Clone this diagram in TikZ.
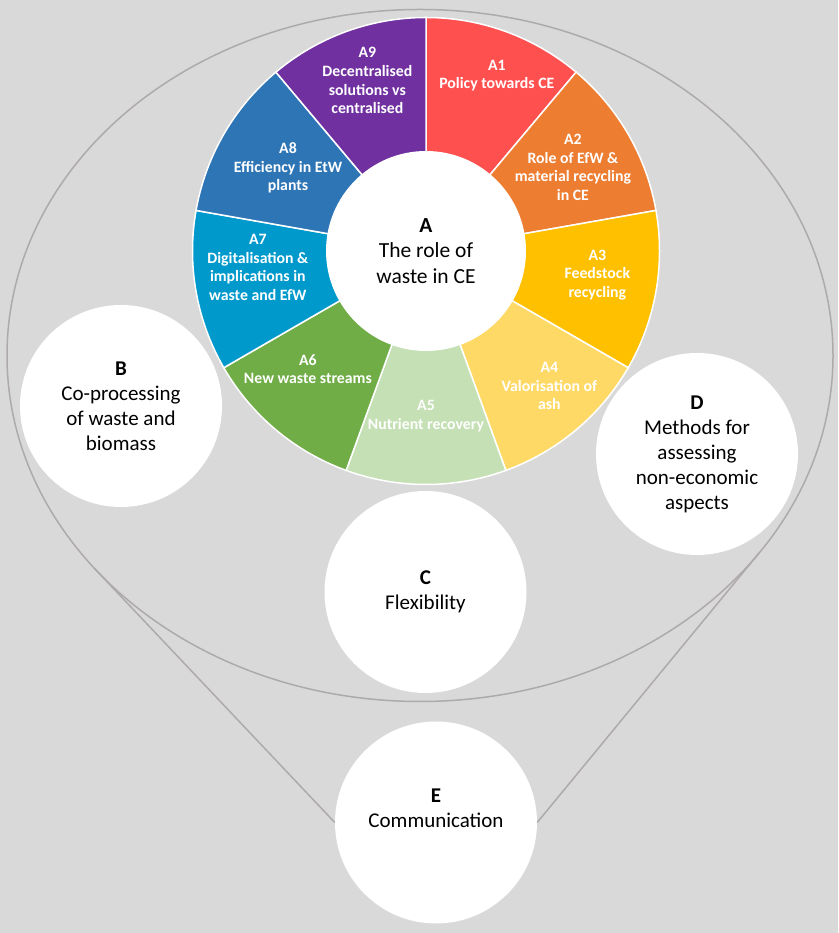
\documentclass[tikz,border=0pt]{standalone}
\usepackage{fontspec}
\setmainfont{Carlito}
\usetikzlibrary{calc}
\definecolor{bg}{HTML}{D9D9D9}
\definecolor{rimgray}{HTML}{AEAAAA}
\definecolor{pA1}{HTML}{FF5050}
\definecolor{pA2}{HTML}{ED7D31}
\definecolor{pA3}{HTML}{FFC000}
\definecolor{pA4}{HTML}{FFD966}
\definecolor{pA5}{HTML}{C5E0B4}
\definecolor{pA6}{HTML}{70AD47}
\definecolor{pA7}{HTML}{0099CC}
\definecolor{pA8}{HTML}{2E75B6}
\definecolor{pA9}{HTML}{7030A0}
\begin{document}
\begin{tikzpicture}[x=1pt,y=1pt,
	rim/.style={draw=rimgray,line width=1.5pt},
	sector/.style={fill=#1,draw=white,line width=1.5pt},
	lbl/.style={align=center,text=white,font=\fontsize{15.8}{18.7}\selectfont\bfseries},
	topictext/.style={align=center,font=\fontsize{21}{25}\selectfont},
	topic/.style={circle,fill=white,minimum size=202pt,inner sep=0pt,topictext}]
	\fill[bg] (0,0) rectangle (838,933);
	\coordinate (o) at (426,682);
	\coordinate (m) at (420,577.5);
	\draw[rim] (m) ellipse [x radius=413pt, y radius=346pt];
	\foreach \i in {1,...,9}
	{
		\pgfmathsetmacro\s{90-40*\i}
		\draw[sector=pA\i] (o) -- ++(\s:233.5pt) arc[start angle=\s, delta angle=40, radius=233.5pt] -- cycle;
	}
	\foreach \i/\a/\r/\t in {
		1/68/189pt/{A1\\Policy towards CE},
		2/29.6/169pt/{A2\\Role of EfW \&\\material recycling\\in CE},
		3/-8/173pt/{A3\\Feedstock\\recycling},
		4/-47.6/183pt/{A4\\Valorisation of\\ash},
		5/-90/165pt/{A5\\Nutrient recovery},
		6/-135/167pt/{A6\\New waste streams},
		7/185.6/169pt/{A7\\Digitalisation \&\\implications in\\waste and EfW},
		8/149/161pt/{A8\\Efficiency in EtW\\plants},
		9/109/180pt/{A9\\Decentralised\\solutions vs\\centralised}}
		\node[lbl] (a\i) at ($(o)+(\a:\r)$) {\t};
	\node[topic,minimum size=200pt,font=\fontsize{21.5}{25.5}\selectfont] (A) at (o) {\textbf{A}\\The role of\\waste in CE};
	\node[topic] (B) at (121,527) {\textbf{B}\\Co-processing\\of waste and\\biomass};
	\node[topic] (C) at (425.5,341) {\textbf{C}\\Flexibility};
	\node[topic] (D) at (697,479) {\textbf{D}\\Methods for\\assessing\\non-economic\\aspects};
	\node[topic,label={[topictext,yshift=14pt]center:{\textbf{E}\\Communication}}] (E) at (436,110.5) {};
	\coordinate (eL) at ($(m)+(218:413pt and 346pt)$);
	\coordinate (eR) at ($(m)+(-34.8:413pt and 346pt)$);
	\draw[rim] (eL) -- (E.west);
	\draw[rim] (eR) -- (E.east);
\end{tikzpicture}
\end{document}
